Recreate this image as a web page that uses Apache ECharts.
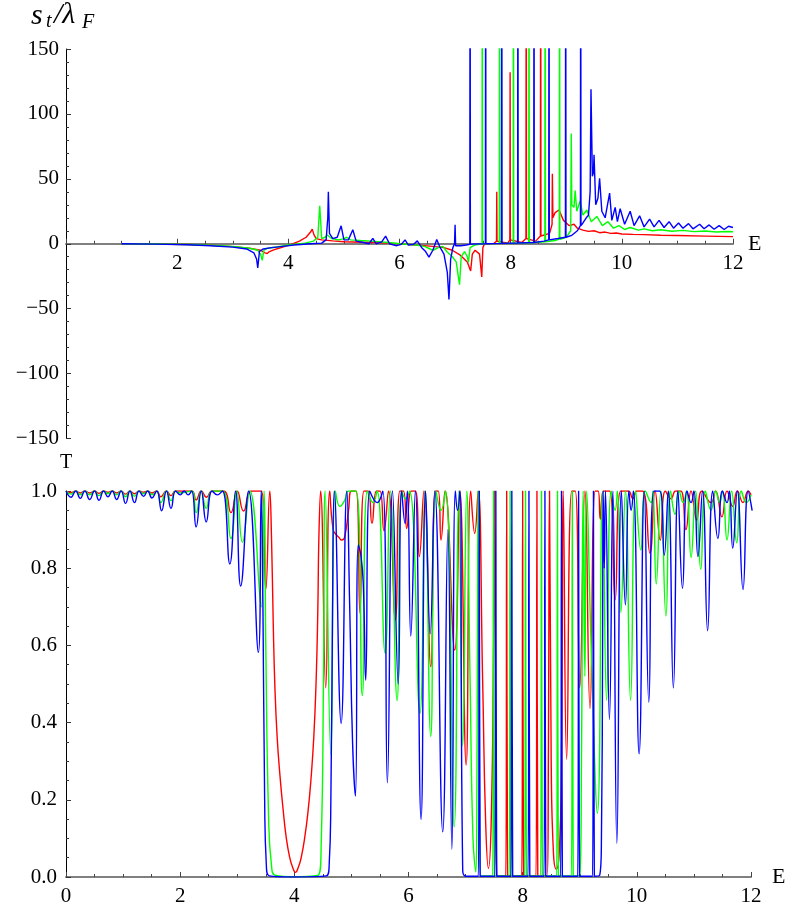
<!DOCTYPE html>
<html>
<head>
<meta charset="utf-8">
<script src="https://cdn.jsdelivr.net/npm/echarts@6/dist/echarts.min.js"></script>
<style>
html, body { margin: 0; padding: 0; background: #fff; }
#chart { width: 787px; height: 908px; }
</style>
</head>
<body>
<div id="chart"></div>
<script>
// upper panel: s_t / lambda_F against E
const sRed = [
  [1.0,0],[1.6,-0.2],[2.2,-0.6],[2.6,-1.2],[3.0,-2.2],[3.3,-3.5],[3.5,-5],[3.58,-7],[3.62,-7.5],[3.66,-6],
  [3.75,-4.5],[3.9,-2.5],[4.05,-0.5],[4.2,2],[4.32,5],[4.4,9],[4.43,11.3],[4.46,7],[4.5,4],[4.6,3],
  [4.8,2.2],[5.0,1.5],[5.5,1],[5.8,0.5],[6.0,0],[6.3,-1],[6.6,-2],[6.8,-3],[6.95,-5],[7.1,-9],
  [7.22,-14],[7.28,-21],[7.31,-8],[7.36,-5],[7.44,-8],[7.48,-25.6],[7.5,-3],[7.53,0],[7.7,0.3],[7.745,2],
  [7.75,40],[7.755,2],[7.95,0.5],[7.985,3],[7.99,132],[7.995,3],[8.2,1],[8.275,4],[8.28,300],[8.285,4],
  [8.45,2],[8.535,6],[8.54,300],[8.545,6],[8.7,8],[8.745,15],[8.75,54],[8.76,20],[8.8,24],[8.87,26],
  [8.95,18],[9.05,14],[9.14,15],[9.2,12],[9.3,10.5],[9.4,9.5],[9.5,10],[9.6,8.5],[9.7,9],[9.8,8],
  [9.9,8.3],[10,7.5],[10.2,7.2],[10.4,7],[10.7,6.6],[11,6.3],[11.5,5.9],[12,5.5]
];
const sGreen = [
  [1.0,0],[1.6,-0.2],[2.2,-0.6],[2.6,-1.2],[3.0,-2],[3.3,-3.5],[3.45,-5],[3.5,-8],[3.53,-12.8],[3.56,-5],
  [3.62,-3.5],[3.8,-2.5],[4.0,-1],[4.3,0.5],[4.45,2],[4.53,5],[4.565,29.2],[4.6,4],[4.66,5],[4.7,6.7],
  [4.78,4],[4.9,3],[5.0,4],[5.05,5],[5.12,3],[5.3,2.5],[5.5,2],[5.8,1],[6.0,0],[6.3,-1],
  [6.45,-2],[6.6,-5],[6.7,-3],[6.78,-2],[6.85,-6],[6.95,-10],[7.02,-14],[7.08,-31.5],[7.11,-10],[7.17,-6],
  [7.22,-10],[7.24,-14.4],[7.27,-3],[7.35,-1],[7.485,0],[7.49,300],[7.495,0],[7.795,0.3],[7.8,300],[7.805,0.3],
  [8.045,0.5],[8.05,300],[8.055,0.5],[8.325,0.8],[8.33,300],[8.335,0.8],[8.615,1.5],[8.62,300],[8.625,1.5],[8.8,2.5],
  [8.875,3.5],[8.88,300],[8.885,3.5],[9.0,5],[9.08,10],[9.09,85],[9.1,30],[9.14,28],[9.16,41],[9.19,25],
  [9.25,33],[9.3,22],[9.37,26],[9.45,17],[9.55,21],[9.65,14],[9.75,17],[9.85,12],[9.95,14],[10.05,11],
  [10.15,12.5],[10.3,10.5],[10.4,11.5],[10.55,10],[10.7,10.8],[10.9,9.6],[11.1,10.3],[11.3,9.3],[11.5,9.8],[11.7,9],
  [11.9,9.4],[12,9.2]
];
const sBlue = [
  [1.0,0],[1.6,-0.3],[2.2,-0.8],[2.6,-1.5],[3.0,-2.6],[3.25,-4],[3.38,-7],[3.43,-12],[3.45,-18.7],[3.48,-6],
  [3.55,-4],[3.7,-3],[3.9,-2],[4.1,-1],[4.4,0],[4.6,0.5],[4.68,3],[4.71,20],[4.72,40],[4.74,8],
  [4.8,4],[4.88,5],[4.95,13.8],[5.0,3],[5.08,3],[5.16,10.8],[5.22,2],[5.35,1],[5.45,0],[5.52,4.1],
  [5.58,0],[5.68,1.5],[5.75,5.9],[5.82,0],[5.9,-1],[5.95,-1.5],[6.03,-0.5],[6.1,2.9],[6.16,-1],[6.25,-0.5],
  [6.32,2.2],[6.4,-3],[6.47,-6],[6.53,-10.3],[6.6,-5],[6.67,3.3],[6.72,-2],[6.8,-8],[6.86,-22],[6.89,-43],
  [6.92,-12],[6.96,-3],[6.99,0],[7.0,14.6],[7.01,-1.5],[7.1,-1.5],[7.2,-1],[7.265,-0.5],[7.27,300],[7.275,-0.3],
  [7.545,0],[7.55,300],[7.555,0],[7.835,0.3],[7.84,300],[7.845,0.3],[8.125,0.6],[8.13,300],[8.135,0.6],[8.415,1],
  [8.42,300],[8.425,1],[8.6,2],[8.685,3],[8.69,300],[8.695,3],[8.85,4],[8.985,5],[8.99,300],[8.995,5],
  [9.1,6.5],[9.2,10],[9.255,14],[9.26,300],[9.265,14],[9.3,16],[9.36,20],[9.4,22],[9.43,40],[9.445,119],
  [9.47,52],[9.49,55],[9.5,68.5],[9.53,30],[9.57,35],[9.6,50.5],[9.64,25],[9.7,20],[9.78,39],[9.82,18],
  [9.88,28],[9.92,17],[9.97,27],[10.05,15],[10.15,25],[10.22,14],[10.32,21.5],[10.4,13],[10.5,19],[10.58,13],
  [10.67,18],[10.76,12.5],[10.85,17],[10.93,12],[11.02,16],[11.1,12],[11.2,15.5],[11.28,11.5],[11.4,15],[11.48,11.5],
  [11.57,14.5],[11.66,11.2],[11.75,14],[11.84,11],[11.92,13.5],[12,12.5]
];

// lower panel: transmission T against E
const tRed = [
  [0,1],[0.088,0.996],[0.17,1],[0.25,0.995],[0.33,1],[0.414,0.995],[0.5,1],[0.578,0.994],[0.66,1],[0.735,0.997],
  [0.81,1],[0.887,0.995],[0.965,1],[1.044,0.992],[1.12,1],[1.2,0.993],[1.28,1],[1.36,0.997],[1.43,1],[1.505,0.995],
  [1.59,1],[1.66,0.985],[1.76,1],[1.84,0.988],[1.92,1],[2.2,1],[2.28,0.977],[2.37,1],[2.46,0.984],[2.56,1],
  [2.76,1],[2.89,0.944],[3.0,1],[3.11,0.948],[3.25,1],[3.42,1],[3.5,0.745],[3.57,1],[3.6,0.88],[3.63,0.66],
  [3.66,0.49],[3.7,0.36],[3.75,0.26],[3.8,0.18],[3.86,0.1],[3.92,0.05],[3.97,0.025],[4.02,0.012],[4.07,0.025],[4.12,0.05],
  [4.18,0.1],[4.24,0.17],[4.29,0.25],[4.34,0.36],[4.38,0.5],[4.41,0.68],[4.43,0.88],[4.46,1],[4.55,0.49],[4.62,1],
  [4.68,0.9],[4.74,0.886],[4.78,0.88],[4.83,0.873],[4.88,0.88],[4.95,0.95],[5.0,1],[5.08,1],[5.15,0.683],[5.22,1],
  [5.29,1],[5.36,0.916],[5.44,1],[5.5,1],[5.57,0.897],[5.65,1],[5.77,0.666],[5.85,1],[5.91,1],[5.97,0.903],
  [6.05,1],[6.12,1],[6.19,0.83],[6.27,1],[6.39,0.545],[6.47,1],[6.52,1],[6.57,0.873],[6.64,1],[6.81,0.588],
  [6.9,1],[7.01,0.29],[7.09,1],[7.16,0.89],[7.22,1],[7.3,0.5],[7.35,0.15],[7.4,0.022],[7.45,0.15],[7.49,0.6],
  [7.51,1],[7.53,0.3],[7.56,0.003],[7.705,0.003],[7.72,1],[7.735,0.003],[7.985,0.003],[8.0,1],[8.015,0.003],[8.235,0.003],
  [8.25,1],[8.265,0.003],[8.43,0.003],[8.45,0.3],[8.47,1],[8.5,0.3],[8.54,0.06],[8.59,0.02],[8.64,0.06],[8.68,0.3],
  [8.71,1],[8.77,0.305],[8.86,1],[8.92,1],[9.0,0.49],[9.09,1],[9.18,0.437],[9.27,1],[9.32,1],[9.36,0.927],
  [9.42,1],[9.52,1],[9.62,0.718],[9.72,1],[9.85,1],[9.93,0.98],[10.0,1],[10.1,1],[10.23,0.839],[10.32,1],
  [10.41,0.873],[10.5,1],[10.6,0.98],[10.68,1],[10.77,1],[10.86,0.9],[10.95,1],[11.05,0.925],[11.14,1],[11.3,0.97],
  [11.38,1],[11.49,0.933],[11.58,1],[11.68,0.96],[11.76,1],[11.86,0.97],[11.95,1],[12.0,0.99]
];
const tGreen = [
  [0,1],[0.088,0.992],[0.17,1],[0.25,0.99],[0.33,1],[0.414,0.99],[0.5,1],[0.578,0.988],[0.66,1],[0.735,0.993],
  [0.81,1],[0.887,0.99],[0.965,1],[1.044,0.985],[1.12,1],[1.2,0.986],[1.28,1],[1.36,0.993],[1.43,1],[1.505,0.99],
  [1.59,1],[1.66,0.97],[1.76,1],[1.84,0.975],[1.92,1],[2.0,0.995],[2.2,1],[2.28,0.944],[2.37,1],[2.457,0.955],
  [2.56,1],[2.74,1],[2.89,0.877],[2.99,1],[3.09,0.867],[3.22,1],[3.42,0.7],[3.47,1],[3.5,0.6],[3.55,0.15],
  [3.6,0.03],[3.66,0.005],[4.0,0.001],[4.42,0.005],[4.47,0.08],[4.51,0.5],[4.54,1],[4.64,0.318],[4.72,1],[4.8,0.96],
  [4.88,0.975],[4.95,1],[5.08,1],[5.19,0.47],[5.28,1],[5.38,0.97],[5.45,1],[5.59,0.58],[5.68,1],[5.8,0.457],
  [5.88,1],[5.95,0.98],[6.02,1],[6.2,0.424],[6.29,1],[6.39,0.364],[6.48,1],[6.57,0.95],[6.65,1],[6.8,0.13],
  [6.88,1],[6.95,0.34],[7.02,1],[7.08,0.5],[7.13,0.1],[7.18,0.013],[7.2,0.3],[7.22,1],[7.24,0.3],[7.27,0.003],
  [7.475,0.003],[7.49,1],[7.505,0.003],[7.765,0.003],[7.78,1],[7.795,0.003],[8.035,0.003],[8.05,1],[8.065,0.003],[8.315,0.003],
  [8.33,1],[8.345,0.003],[8.595,0.003],[8.61,1],[8.625,0.003],[8.855,0.003],[8.87,1],[8.885,0.003],[9.0,0.005],[9.03,0.3],
  [9.06,1],[9.09,0.52],[9.12,1],[9.2,0.6],[9.31,0.165],[9.4,1],[9.47,0.458],[9.55,1],[9.62,0.95],[9.66,1],
  [9.72,0.685],[9.8,1],[9.89,0.458],[9.98,1],[10.07,0.847],[10.15,1],[10.25,0.97],[10.28,1],[10.34,0.759],[10.42,1],
  [10.51,0.676],[10.59,1],[10.67,0.94],[10.74,1],[10.81,0.97],[10.87,1],[10.95,0.828],[11.03,1],[11.12,0.797],[11.2,1],
  [11.3,0.95],[11.38,1],[11.45,0.97],[11.5,1],[11.58,0.873],[11.66,1],[11.75,0.866],[11.83,1],[11.92,0.97],[12.0,0.99]
];
const tBlue = [
  [0,1],[0.088,0.984],[0.17,1],[0.25,0.981],[0.33,1],[0.414,0.978],[0.5,1],[0.578,0.976],[0.66,1],[0.735,0.985],
  [0.81,1],[0.887,0.978],[0.965,1],[1.044,0.968],[1.12,1],[1.2,0.97],[1.28,1],[1.36,0.986],[1.43,1],[1.505,0.982],
  [1.59,1],[1.675,0.949],[1.76,1],[1.84,0.955],[1.92,1],[2.0,0.99],[2.07,1],[2.14,0.99],[2.2,1],[2.28,0.907],
  [2.37,1],[2.457,0.92],[2.56,1],[2.65,0.99],[2.74,1],[2.87,0.811],[2.97,1],[3.06,0.754],[3.2,1],[3.37,0.582],
  [3.42,1],[3.45,0.7],[3.48,0.2],[3.51,0.03],[3.56,0.003],[4.0,0],[4.56,0.003],[4.61,0.03],[4.64,0.2],[4.67,0.7],
  [4.7,1],[4.82,0.398],[4.92,1],[4.97,0.7],[5.02,0.35],[5.07,0.21],[5.12,0.86],[5.17,0.83],[5.21,0.75],[5.25,0.51],
  [5.32,1],[5.45,0.97],[5.55,1],[5.63,0.244],[5.72,1],[5.82,0.5],[5.88,1],[5.94,0.916],[5.98,1],[6.04,0.624],
  [6.12,1],[6.22,0.149],[6.3,1],[6.38,0.63],[6.46,1],[6.6,0.117],[6.69,0.9],[6.76,0.072],[6.82,1],[6.86,0.95],
  [6.9,1],[6.95,0.016],[7.01,0.002],[7.225,0.002],[7.24,1],[7.255,0.002],[7.515,0.002],[7.53,1],[7.545,0.002],[7.795,0.002],
  [7.81,1],[7.825,0.002],[8.095,0.002],[8.11,1],[8.125,0.002],[8.375,0.002],[8.39,1],[8.405,0.002],[8.665,0.002],[8.68,1],
  [8.695,0.002],[8.965,0.002],[8.98,1],[8.995,0.002],[9.225,0.002],[9.24,1],[9.255,0.002],[9.35,0.005],[9.38,0.1],[9.4,0.6],
  [9.41,1],[9.43,0.8],[9.45,1],[9.52,0.408],[9.58,1],[9.65,0.087],[9.73,1],[9.8,0.705],[9.86,1],[9.9,0.95],
  [9.94,1],[10.04,0.319],[10.13,1],[10.21,0.453],[10.3,1],[10.4,1],[10.48,0.834],[10.55,1],[10.64,0.49],[10.72,1],
  [10.8,0.748],[10.88,1],[10.95,0.97],[11.0,1],[11.07,0.83],[11.15,1],[11.24,0.638],[11.33,1],[11.42,0.877],[11.5,1],
  [11.58,0.97],[11.62,1],[11.68,0.852],[11.76,1],[11.86,0.745],[11.95,1],[12.02,0.949]
];

const RED = '#ff0000', GREEN = '#00ff00', BLUE = '#0000ff';
const SERIF = 'Liberation Serif';

const chart = echarts.init(document.getElementById('chart'), null, {renderer: 'canvas'});

const minus = (v) => (v < 0 ? '\u2212' + (-v) : String(v));

const xAxisBase = (gridIndex, nameGap, offset) => ({
  type: 'value', gridIndex, min: 0, max: 12, interval: 2, position: 'bottom', offset,
  name: 'E', nameLocation: 'end', nameGap,
  nameTextStyle: {color: '#000', fontFamily: SERIF, fontSize: 22},
  axisLine: {show: true, onZero: false, lineStyle: {color: '#808080', width: 2}},
  axisTick: {show: true, inside: true, length: 5, lineStyle: {color: '#444'}},
  minorTick: {show: true, splitNumber: 4, length: 3, lineStyle: {color: '#444'}},
  splitLine: {show: false},
  axisLabel: {color: '#000', fontFamily: SERIF, fontSize: 21, margin: 9},
});

const line = (data, color, xi, smooth) => ({
  type: 'line', data, xAxisIndex: xi, yAxisIndex: xi,
  showSymbol: false, symbol: 'none', smooth, clip: true,
  lineStyle: {color, width: 1.4}, itemStyle: {color},
});

chart.setOption({
  animation: false,
  backgroundColor: '#fff',
  grid: [
    {left: 66, top: 49, width: 667, height: 389.5},
    {left: 66, top: 491, width: 685, height: 386},
  ],
  xAxis: [
    Object.assign(xAxisBase(0, 15, -194.75), {
      axisLabel: {color: '#000', fontFamily: SERIF, fontSize: 21, margin: 9,
        formatter: (v) => (v === 0 ? '' : String(v))},
    }),
    xAxisBase(1, 21, 0),
  ],
  yAxis: [
    {
      type: 'value', gridIndex: 0, min: -150, max: 150, interval: 50,
      axisLine: {show: true, onZero: false, lineStyle: {color: '#000', width: 1}},
      axisTick: {show: true, inside: true, length: 5, lineStyle: {color: '#333'}},
      minorTick: {show: true, splitNumber: 5, length: 3, lineStyle: {color: '#333'}},
      splitLine: {show: false},
      axisLabel: {color: '#000', fontFamily: SERIF, fontSize: 21, margin: 7, formatter: minus},
    },
    {
      type: 'value', gridIndex: 1, min: 0, max: 1, interval: 0.2,
      name: 'T', nameLocation: 'end', nameGap: 18,
      nameTextStyle: {color: '#000', fontFamily: SERIF, fontSize: 20, align: 'center'},
      axisLine: {show: true, onZero: false, lineStyle: {color: '#000', width: 1}},
      axisTick: {show: true, inside: true, length: 5, lineStyle: {color: '#333'}},
      minorTick: {show: true, splitNumber: 4, length: 3, lineStyle: {color: '#333'}},
      splitLine: {show: false},
      axisLabel: {color: '#000', fontFamily: SERIF, fontSize: 21, margin: 9,
        formatter: (v) => v.toFixed(1)},
    },
  ],
  graphic: [
    {type: 'text', x: 31, y: 16, style: {text: 's', font: 'italic 30px "Liberation Serif"', fill: '#000', verticalAlign: 'middle'}},
    {type: 'text', x: 46, y: 22, style: {text: 't', font: 'italic 20px "Liberation Serif"', fill: '#000', verticalAlign: 'middle'}},
    {type: 'text', x: 54, y: 15, style: {text: '/\u03bb', font: 'italic 30px "Liberation Serif"', fill: '#000', verticalAlign: 'middle'}},
    {type: 'text', x: 82, y: 23, style: {text: 'F', font: 'italic 20px "Liberation Serif"', fill: '#000', verticalAlign: 'middle'}},
  ],
  series: [
    line(sRed, RED, 0, false),
    line(sGreen, GREEN, 0, false),
    line(sBlue, BLUE, 0, false),
    line(tRed, RED, 1, 0.5),
    line(tGreen, GREEN, 1, 0.5),
    line(tBlue, BLUE, 1, 0.5),
  ],
});
</script>
</body>
</html>
